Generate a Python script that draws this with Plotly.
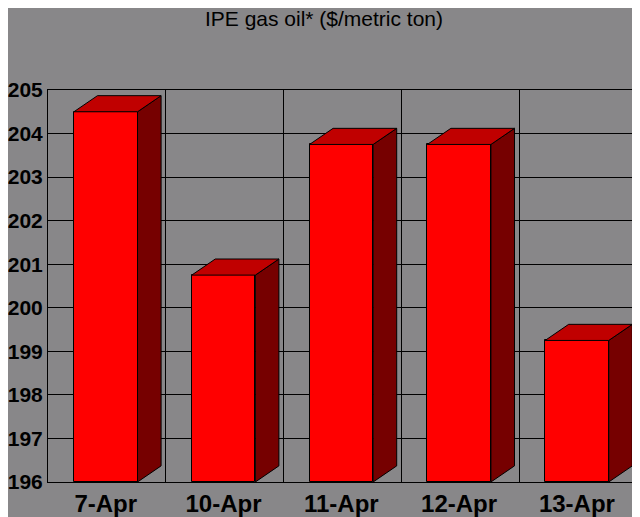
import plotly.graph_objects as go

categories = ["7-Apr", "10-Apr", "11-Apr", "12-Apr", "13-Apr"]
prices = [204.5, 200.75, 203.75, 203.75, 199.25]
y_ticks = [196, 197, 198, 199, 200, 201, 202, 203, 204, 205]

BASE = 196
Y_MAX = 205
BAR_W = 0.54
CENTER_OFF = 0.49
DX = 0.2
DY = 0.37

FRONT = "#ff0000"
TOP = "#c00000"
SIDE = "#760000"
BG = "#888789"
FONT = "Liberation Sans, Arial"

fig = go.Figure()

xs = [i + CENTER_OFF for i in range(len(categories))]

for x, v in zip(xs, prices):
    x0 = x - BAR_W / 2
    x1 = x + BAR_W / 2
    fig.add_trace(go.Scatter(
        x=[x1, x1, x1 + DX, x1 + DX, x1],
        y=[BASE, v, v + DY, BASE + DY, BASE],
        fill="toself", fillcolor=SIDE, mode="lines",
        line=dict(color="black", width=1), hoverinfo="skip", showlegend=False))
    fig.add_trace(go.Scatter(
        x=[x0, x1, x1 + DX, x0 + DX, x0],
        y=[v, v, v + DY, v + DY, v],
        fill="toself", fillcolor=TOP, mode="lines",
        line=dict(color="black", width=1), hoverinfo="skip", showlegend=False))

fig.add_trace(go.Bar(
    x=xs, y=[p - BASE for p in prices], base=BASE, width=BAR_W,
    marker=dict(color=FRONT, line=dict(color="black", width=1)),
    showlegend=False, hoverinfo="skip"))

H = 509
fig.update_layout(
    width=632, height=H,
    paper_bgcolor=BG, plot_bgcolor=BG,
    margin=dict(l=40, r=3, t=82, b=35, autoexpand=False),
    title=dict(text="IPE gas oil* ($/metric ton)", x=0.5, xanchor="center",
               y=1 - 3 / H, yanchor="top",
               font=dict(family=FONT, size=21, color="black")),
    bargap=0,
)

fig.update_xaxes(
    range=[0, 5], tickmode="array", tickvals=xs, ticktext=categories,
    showgrid=False, zeroline=False, showline=True, linecolor="black", linewidth=1,
    mirror=True, ticks="", automargin=False,
    tickfont=dict(family=FONT, size=24, color="black", weight="bold"),
    minor=dict(tickmode="array", tickvals=[0, 1, 2, 3, 4, 5], showgrid=True,
               gridcolor="black", gridwidth=1, ticks=""),
)
fig.update_yaxes(
    range=[BASE, Y_MAX], tickmode="array", tickvals=y_ticks,
    showgrid=True, gridcolor="black", gridwidth=1, zeroline=False,
    showline=True, linecolor="black", linewidth=1, mirror=True, ticks="",
    ticklabelstandoff=0, automargin=False,
    tickfont=dict(family=FONT, size=21, color="black", weight="bold"),
)

fig.write_html("out.html")
